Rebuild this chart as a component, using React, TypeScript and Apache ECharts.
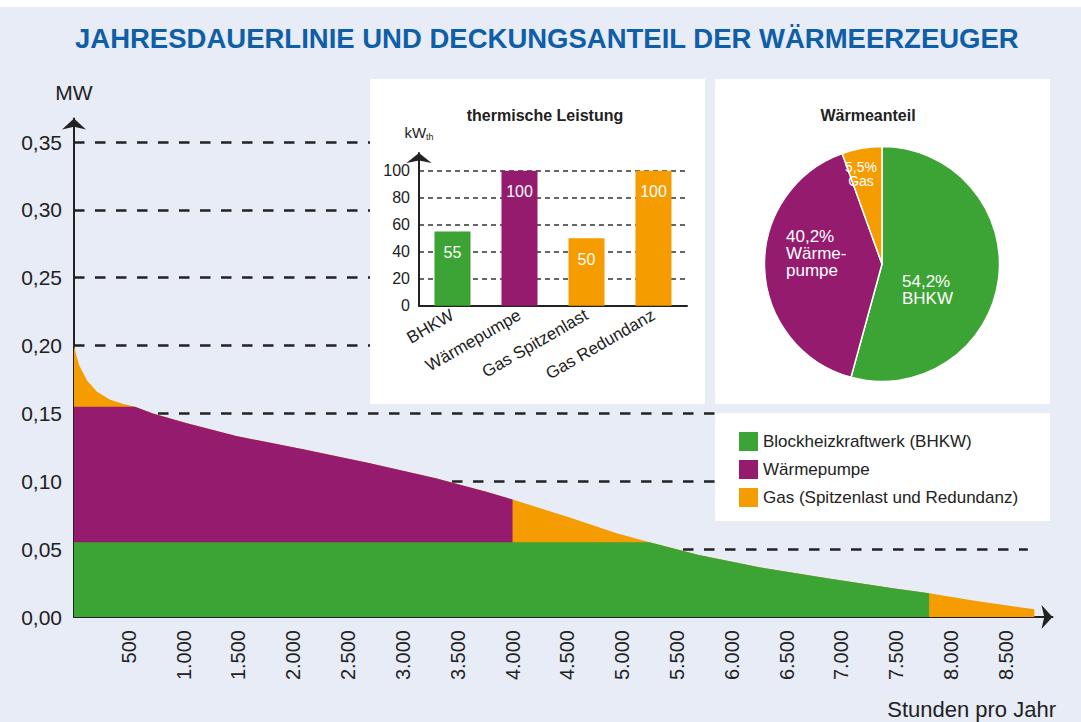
import React, { useEffect, useRef } from 'react';
import * as echarts from 'echarts';

// ---------- data ----------
const HOURS = [0, 20, 50, 120, 210, 330, 450, 556, 720, 1030, 1480, 2090, 2700, 3300, 3760, 4000, 4500, 4950, 5250, 5700, 6250, 6870, 7470, 7800, 8230, 8760];
const LOAD_MW = [0.2, 0.193, 0.185, 0.174, 0.166, 0.16, 0.157, 0.155, 0.15, 0.1427, 0.1334, 0.1236, 0.1133, 0.1022, 0.0923, 0.0865, 0.0739, 0.0617, 0.055, 0.0457, 0.0366, 0.0285, 0.0212, 0.0175, 0.0118, 0.0057];
const WP_END_HOURS = 4000;
const BHKW_END_HOURS = 7800;
const GRID_LINE_END_HOURS = 8700;
const Y_TICKS = [0.05, 0.1, 0.15, 0.2, 0.25, 0.3, 0.35];

const PLANTS = ['BHKW', 'Wärmepumpe', 'Gas Spitzenlast', 'Gas Redundanz'];
const PLANT_KW = [55, 100, 50, 100];

const SHARE_KEYS = ['Anteil BHKW', 'Anteil Wärmepumpe', 'Anteil Gas'];
const SHARE_NAMES = ['BHKW', 'Wärme-\npumpe', 'Gas'];
const SHARE_PCT = [54.2, 40.2, 5.5];

const LEGEND_NAMES = ['Blockheizkraftwerk (BHKW)', 'Wärmepumpe', 'Gas (Spitzenlast und Redundanz)'];

// ---------- styles / layout ----------
const GREEN = '#3ca434';
const PURPLE = '#951b6f';
const ORANGE = '#f59c00';
const BG = '#e7ecf6';
const INK = '#222222';
const FONT = '"Liberation Sans", Arial, sans-serif';
const BAR_COLORS = [GREEN, PURPLE, ORANGE, ORANGE];
const PIE_COLORS = [GREEN, PURPLE, ORANGE];
const PIE_LABEL_POS = [
  { x: 902, y: 290, align: 'left', verticalAlign: 'middle' },
  { x: 786, y: 253, align: 'left', verticalAlign: 'middle' },
  { x: 861, y: 174, align: 'center', verticalAlign: 'middle' },
];
const PIE_LABEL_SIZE = [17, 17, 14];
const PANELS = [
  { x: 370, y: 79, width: 335, height: 325 },
  { x: 715, y: 79, width: 335, height: 325 },
  { x: 715, y: 413, width: 335, height: 108 },
];

const PX_PER_HOUR = 0.10963;
const PX_PER_MW = 1357.1;
const MAIN_LEFT = 74;
const MAIN_BOTTOM = 617;
const MAIN_RIGHT = 1052.5;
const MAIN_TOP = 118.5;
const X_MAX = (MAIN_RIGHT - MAIN_LEFT) / PX_PER_HOUR;
const Y_MAX = (MAIN_BOTTOM - MAIN_TOP) / PX_PER_MW;

const fmtThousands = (v: number) => String(v).replace(/\B(?=(\d{3})+(?!\d))/g, '.');
const isMultiple = (v: number, step: number) => Math.abs(v / step - Math.round(v / step)) < 1e-6;

// dashed guide lines stop where a white panel begins
function dashEnd(v: number) {
  const yPx = MAIN_BOTTOM - v * PX_PER_MW;
  let endPx = MAIN_LEFT + GRID_LINE_END_HOURS * PX_PER_HOUR;
  PANELS.forEach((p) => {
    if (yPx >= p.y - 1.5 && yPx <= p.y + p.height && p.x < endPx) endPx = p.x;
  });
  return (endPx - MAIN_LEFT) / PX_PER_HOUR;
}

function buildOption() {
  const capBhkw = PLANT_KW[0] / 1000;
  const capWp = (PLANT_KW[0] + PLANT_KW[1]) / 1000;
  const total = HOURS.map((h, i) => [h, LOAD_MW[i]]);
  const wp = HOURS.map((h, i) => [h, Math.min(LOAD_MW[i], capWp)]).filter((p) => p[0] <= WP_END_HOURS);
  const bhkw = HOURS.map((h, i) => [h, Math.min(LOAD_MW[i], capBhkw)]).filter((p) => p[0] <= BHKW_END_HOURS);

  const areaSeries = (name: string, data: number[][], color: string) => ({
    type: 'line',
    name,
    data,
    xAxisIndex: 0,
    yAxisIndex: 0,
    smooth: false,
    symbol: 'none',
    showSymbol: false,
    silent: true,
    z: 2,
    lineStyle: { width: 0, color },
    itemStyle: { color },
    areaStyle: { color, opacity: 1 },
  });

  return {
    animation: false,
    backgroundColor: BG,
    textStyle: { fontFamily: FONT },
    title: {
      text: 'JAHRESDAUERLINIE UND DECKUNGSANTEIL DER WÄRMEERZEUGER',
      left: 75,
      top: 24,
      padding: 0,
      textStyle: { fontSize: 27.5, fontWeight: 'bold', color: '#0e5ea8', fontFamily: FONT },
    },
    legend: {
      orient: 'vertical',
      left: 739,
      top: 432,
      padding: 0,
      itemWidth: 19,
      itemHeight: 19,
      itemGap: 9,
      icon: 'rect',
      selectedMode: false,
      z: 12,
      data: [LEGEND_NAMES[0], LEGEND_NAMES[1], LEGEND_NAMES[2]],
      textStyle: { fontSize: 17, color: INK, fontFamily: FONT },
    },
    grid: [
      { left: MAIN_LEFT, top: MAIN_TOP, width: MAIN_RIGHT - MAIN_LEFT, height: MAIN_BOTTOM - MAIN_TOP },
      { left: 419, top: 153, width: 268, height: 152.7, z: 11 },
    ],
    xAxis: [
      {
        type: 'value',
        gridIndex: 0,
        min: 0,
        max: X_MAX,
        interval: 500,
        axisLine: { show: true, symbol: ['none', 'arrow'], symbolSize: [18, 11], lineStyle: { color: INK, width: 2 } },
        axisTick: { show: false },
        splitLine: { show: false },
        axisLabel: {
          rotate: 90,
          fontSize: 20,
          color: INK,
          margin: 13,
          showMinLabel: false,
          showMaxLabel: false,
          formatter: (v: number) => (v === 0 || !isMultiple(v, 500) ? '' : fmtThousands(v)),
        },
      },
      {
        type: 'category',
        gridIndex: 1,
        data: PLANTS,
        z: 11,
        axisLine: { show: true, lineStyle: { color: INK, width: 2 } },
        axisTick: { show: false },
        axisLabel: { rotate: 30, fontSize: 17, color: INK, margin: 8, interval: 0 },
      },
    ],
    yAxis: [
      {
        type: 'value',
        gridIndex: 0,
        min: 0,
        max: Y_MAX,
        interval: 0.05,
        name: 'MW',
        nameLocation: 'end',
        nameGap: 16,
        nameTextStyle: { fontSize: 21, color: INK },
        axisLine: { show: true, symbol: ['none', 'arrow'], symbolSize: [18, 11], lineStyle: { color: INK, width: 2 } },
        axisTick: { show: false },
        splitLine: { show: false },
        axisLabel: {
          fontSize: 21,
          color: INK,
          margin: 12,
          showMaxLabel: false,
          formatter: (v: number) => (isMultiple(v, 0.05) ? v.toFixed(2).replace('.', ',') : ''),
        },
      },
      {
        type: 'value',
        gridIndex: 1,
        min: 0,
        max: 113.1,
        interval: 20,
        z: 11,
        name: '{a|kW}{b|th}',
        nameLocation: 'end',
        nameGap: 12,
        nameTextStyle: {
          rich: {
            a: { fontSize: 15, color: INK, fontFamily: FONT },
            b: { fontSize: 9, color: INK, fontFamily: FONT, padding: [9, 0, 0, 0] },
          },
        },
        axisLine: { show: true, symbol: ['none', 'arrow'], symbolSize: [19, 10], lineStyle: { color: INK, width: 2 } },
        axisTick: { show: false },
        splitLine: { show: true, showMaxLine: false, showMinLine: false, lineStyle: { color: '#333', width: 1.5, type: [5, 4] } },
        axisLabel: {
          fontSize: 16,
          color: INK,
          margin: 9,
          showMaxLabel: false,
          formatter: (v: number) => (isMultiple(v, 20) ? String(v) : ''),
        },
      },
    ],
    series: [
      {
        type: 'line',
        xAxisIndex: 0,
        yAxisIndex: 0,
        data: [[0, 0]],
        symbol: 'none',
        lineStyle: { width: 0 },
        silent: true,
        z: 1,
        markLine: {
          z: 1,
          silent: true,
          symbol: ['none', 'none'],
          label: { show: false },
          lineStyle: { color: INK, width: 2.6, type: [10.5, 10.5] },
          data: Y_TICKS.map((v) => [{ coord: [0, v] }, { coord: [dashEnd(v), v] }]),
        },
      },
      areaSeries(LEGEND_NAMES[2], total, ORANGE),
      areaSeries(LEGEND_NAMES[1], wp, PURPLE),
      areaSeries(LEGEND_NAMES[0], bhkw, GREEN),
      {
        type: 'bar',
        xAxisIndex: 1,
        yAxisIndex: 1,
        barWidth: 36,
        z: 12,
        silent: true,
        data: PLANT_KW.map((v, i) => ({ value: v, itemStyle: { color: BAR_COLORS[i] } })),
        label: { show: true, position: 'insideTop', distance: 13, color: '#fff', fontSize: 16 },
      },
      {
        type: 'pie',
        center: [882, 264],
        radius: 117.5,
        startAngle: 90,
        clockwise: true,
        z: 12,
        silent: true,
        itemStyle: { borderColor: '#fff', borderWidth: 1.5 },
        labelLine: { show: false },
        data: SHARE_PCT.map((v, i) => ({
          name: SHARE_KEYS[i],
          value: v,
          itemStyle: { color: PIE_COLORS[i] },
          label: { fontSize: PIE_LABEL_SIZE[i], lineHeight: PIE_LABEL_SIZE[i] },
        })),
        label: {
          show: true,
          position: 'inside',
          color: '#fff',
          formatter: (p: any) => `${SHARE_PCT[p.dataIndex].toFixed(1).replace('.', ',')}%\n${SHARE_NAMES[p.dataIndex]}`,
        },
        labelLayout: (p: any) => PIE_LABEL_POS[p.dataIndex],
      },
    ],
    graphic: {
      elements: [
        { type: 'rect', z: 10, silent: true, shape: { x: 0, y: 0, width: 1081, height: 7 }, style: { fill: '#fff' } },
        ...PANELS.map((p) => ({ type: 'rect', z: 10, silent: true, shape: { ...p }, style: { fill: '#fff' } })),
        {
          type: 'text', z: 12, silent: true, x: 545, y: 115,
          style: { text: 'thermische Leistung', fontSize: 16, fontWeight: 'bold', fontFamily: FONT, fill: INK, align: 'center', verticalAlign: 'middle' },
        },
        {
          type: 'text', z: 12, silent: true, x: 868, y: 115,
          style: { text: 'Wärmeanteil', fontSize: 16, fontWeight: 'bold', fontFamily: FONT, fill: INK, align: 'center', verticalAlign: 'middle' },
        },
        {
          type: 'text', z: 12, silent: true, x: 1056, y: 709,
          style: { text: 'Stunden pro Jahr', fontSize: 22, fontFamily: FONT, fill: INK, align: 'right', verticalAlign: 'middle' },
        },
      ],
    },
  };
}

export default function App() {
  const ref = useRef<HTMLDivElement>(null);
  useEffect(() => {
    document.body.style.margin = '0';
    const chart = echarts.init(ref.current as HTMLDivElement, null, { renderer: 'svg' });
    chart.setOption(buildOption() as any);
    return () => chart.dispose();
  }, []);
  return <div ref={ref} style={{ width: 1081, height: 722 }} />;
}
